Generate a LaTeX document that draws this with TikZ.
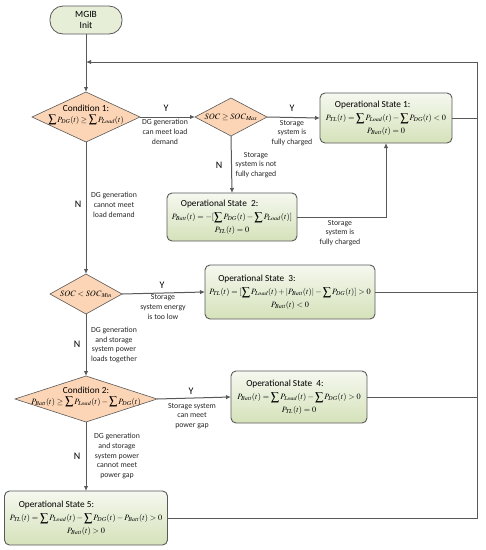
\documentclass[tikz,border=0pt]{standalone}
\usepackage{mathptmx}
\usepackage[no-math]{fontspec}
\setmainfont{Carlito}
\usetikzlibrary{shapes.geometric,arrows.meta}
\definecolor{lnc}{HTML}{595959}
\definecolor{dfill}{HTML}{FBD5B5}
\definecolor{gtop}{HTML}{F5F8EF}
\definecolor{gbot}{HTML}{D5E2BA}
\definecolor{ifill}{HTML}{E6EED8}
\newcommand{\stt}[3]{\begin{tabular}{@{}c@{}}\multicolumn{1}{@{}l}{\hspace{9pt}\fontsize{9.3}{11}\selectfont #1}\\[1pt] \fontsize{8.2}{9}\selectfont #2\\[1pt] \fontsize{8.2}{9}\selectfont #3\end{tabular}}
\newcommand{\sm}{\mathop{\displaystyle\sum}\nolimits}
\begin{document}
\begin{tikzpicture}[x=1pt,y=-1pt,
  every node/.style={inner sep=0pt, outer sep=0pt},
  stbox/.style={draw=lnc, line width=0.9pt, rounded corners=5pt, top color=gtop, bottom color=gbot},
  dia/.style={draw=lnc, line width=0.6pt, fill=dfill, diamond},
  lab/.style={align=center, font=\fontsize{7.8}{9.8}\selectfont, text=black!85},
  yn/.style={font=\fontsize{10}{12}\selectfont},
  ln/.style={draw=lnc, line width=1pt},
  arr/.style={ln, -{Latex[length=5pt,width=4.5pt]}}
]
\useasboundingbox (0,0) rectangle (486,550);

% nodes
\node[draw=lnc, line width=0.8pt, fill=ifill, rounded corners=13pt, minimum width=72pt, minimum height=28pt, align=center, font=\fontsize{9.5}{11}\selectfont] (init) at (86,20) {MGIB\\Init};

\node[dia, minimum width=108pt, minimum height=50pt] (c1) at (86,117) {};
\node[align=center, font=\fontsize{9.3}{11}\selectfont] (c1t) at (86,115) {Condition 1:\\[0pt] {\fontsize{8}{9}\selectfont $\sm P_{\mathit{DG}}(t)\geq\sm P_{\mathit{Load}}(t)$}};

\node[dia, minimum width=72pt, minimum height=38pt] (smax) at (231,117) {};
\node[font=\fontsize{8.2}{10}\selectfont] (smaxt) at (231,117) {$\mathit{SOC}\geq \mathit{SOC}_{\mathit{Max}}$};

\node[stbox, minimum width=132pt, minimum height=50pt] (s1) at (386,118)
  {\stt{Operational State 1:}{$P_{\mathit{TL}}(t)=\sm P_{\mathit{Load}}(t)-\sm P_{\mathit{DG}}(t)<0$}{$P_{\mathit{Batt}}(t)=0$}};

\node[stbox, minimum width=130pt, minimum height=48pt] (s2) at (232,217)
  {\stt{Operational State~ 2:}{$P_{\mathit{Batt}}(t)=-[\sm P_{\mathit{DG}}(t)-\sm P_{\mathit{Load}}(t)]$}{$P_{\mathit{TL}}(t)=0$}};

\node[dia, minimum width=72pt, minimum height=40pt] (smin) at (86,294) {};
\node[font=\fontsize{8.2}{10}\selectfont] (smint) at (86,294) {$\mathit{SOC}<\mathit{SOC}_{\mathit{Min}}$};

\node[stbox, minimum width=170pt, minimum height=54pt] (s3) at (290,292)
  {\stt{Operational State~ 3:}{$P_{\mathit{TL}}(t)=[\sm P_{\mathit{Load}}(t)+\left|P_{\mathit{Batt}}(t)\right|-\sm P_{\mathit{DG}}(t)]>0$}{$P_{\mathit{Batt}}(t)<0$}};

\node[dia, minimum width=142pt, minimum height=46pt] (c2) at (86,399) {};
\node[align=center, font=\fontsize{9.3}{11}\selectfont] (c2t) at (86,397) {Condition 2:\\[0pt] {\fontsize{8.2}{9}\selectfont $P_{\mathit{Batt}}(t)\geq\sm P_{\mathit{Load}}(t)-\sm P_{\mathit{DG}}(t)$}};

\node[stbox, minimum width=136pt, minimum height=52pt] (s4) at (299,397)
  {\stt{Operational State~ 4:}{$P_{\mathit{Batt}}(t)=\sm P_{\mathit{Load}}(t)-\sm P_{\mathit{DG}}(t)>0$}{$P_{\mathit{TL}}(t)=0$}};

\node[stbox, minimum width=163pt, minimum height=54pt] (s5) at (86,518)
  {\stt{Operational State 5:}{$P_{\mathit{TL}}(t)=\sm P_{\mathit{Load}}(t)-\sm P_{\mathit{DG}}(t)-P_{\mathit{Batt}}(t)>0$}{$P_{\mathit{Batt}}(t)>0$}};

\coordinate (fbR) at (477,62);
\coordinate (fbL) at (86,62);

% connectors
\draw[arr] (init.south) -- (c1.north);
\draw[arr] (c1.east) -- (smax.west);
\draw[arr] (smax.east) -- (s1.west);
\draw[arr] (smax.south) -- (s2.north);
\draw[arr] (s2.east) -| (s1.south);
\draw[arr] (c1.south) -- (smin.north);
\draw[arr] (smin.east) -- (s3.west);
\draw[arr] (smin.south) -- (c2.north);
\draw[arr] (c2.east) -- (s4.west);
\draw[arr] (c2.south) -- (s5.north);
\draw[arr] (s5.east) -| (fbR) -- (fbL);
\draw[ln] (s1.east) -- (s1.east -| fbR);
\draw[ln] (s3.east) -- (s3.east -| fbR);
\draw[ln] (s4.east) -- (s4.east -| fbR);

% labels
\node[yn] (y1) at (166,108) {Y};
\node[lab] (l1) at (165,132) {DG generation\\can meet load\\demand};
\node[yn] (y2) at (292,108) {Y};
\node[lab] (l2) at (292,133) {Storage\\system is\\fully charged};
\node[yn] (n1) at (219,165) {N};
\node[lab] (l3) at (256,165) {Storage\\system is not\\fully charged};
\node[lab] (l4) at (340,233) {Storage\\system is\\fully charged};
\node[yn] (n2) at (78,204) {N};
\node[lab] (l5) at (114,205) {DG generation\\cannot meet\\load demand};
\node[yn] (y3) at (162,285) {Y};
\node[lab] (l6) at (163,307) {Storage\\system energy\\is too low};
\node[yn] (n3) at (77,344) {N};
\node[lab] (l7) at (114,345) {DG generation\\and storage\\system power\\loads together};
\node[yn] (y4) at (191,391) {Y};
\node[lab] (l8) at (192,416) {Storage system\\can meet\\power gap};
\node[yn] (n4) at (77,456) {N};
\node[lab] (l9) at (117,456) {DG generation\\and storage\\system power\\cannot meet\\power gap};
\end{tikzpicture}
\end{document}
